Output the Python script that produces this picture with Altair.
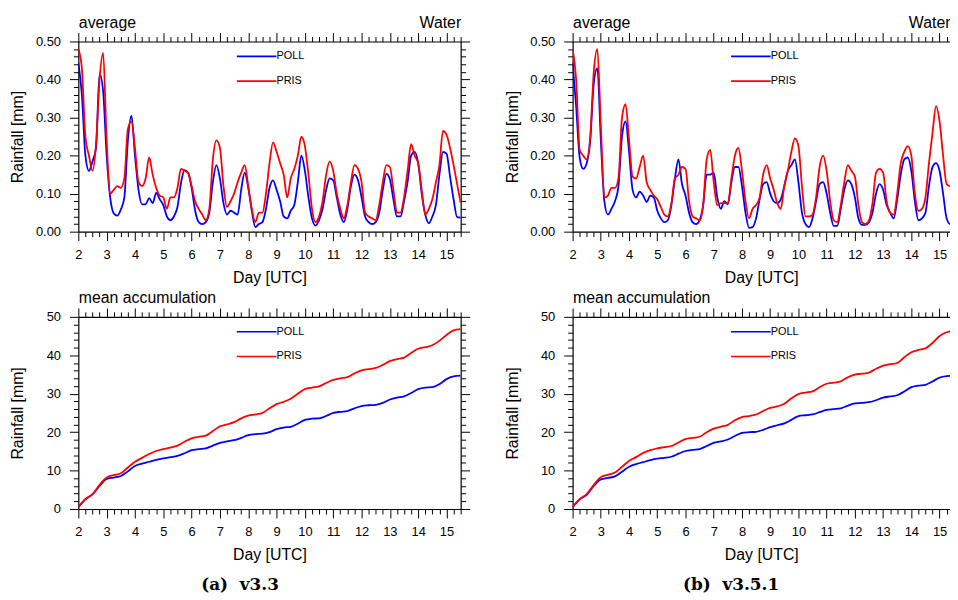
import altair as alt
import pandas as pd

# ---------------- data ----------------
# 3-hourly time axis for the "average" panels, 6-hourly for accumulation
T3 = [2 + 0.125 * k for k in range(109)]
T6 = [2 + 0.25 * k for k in range(55)]

SERIES = ["POLL", "PRIS"]
COLORS = ["#0000ff", "#ff0000"]

# (a) v3.3 hourly-average rainfall
POLL_A = [0.445, 0.36, 0.20, 0.16, 0.185, 0.22, 0.415, 0.37,
          0.20, 0.09, 0.048, 0.042, 0.058, 0.09, 0.24, 0.305,
          0.20, 0.11, 0.072, 0.072, 0.088, 0.075, 0.102, 0.085,
          0.07, 0.04, 0.03, 0.04, 0.065, 0.128, 0.162, 0.155,
          0.115, 0.055, 0.025, 0.02, 0.025, 0.05, 0.13, 0.175,
          0.14, 0.075, 0.045, 0.055, 0.05, 0.045, 0.11, 0.155,
          0.115, 0.055, 0.012, 0.02, 0.025, 0.06, 0.115, 0.135,
          0.11, 0.08, 0.04, 0.035, 0.055, 0.07, 0.13, 0.20,
          0.16, 0.09, 0.035, 0.016, 0.03, 0.06, 0.11, 0.14,
          0.135, 0.09, 0.045, 0.025, 0.06, 0.12, 0.15, 0.135,
          0.09, 0.04, 0.025, 0.02, 0.025, 0.05, 0.11, 0.152,
          0.138, 0.085, 0.04, 0.04, 0.08, 0.13, 0.20, 0.21,
          0.18, 0.10, 0.045, 0.022, 0.04, 0.07, 0.15, 0.21,
          0.205, 0.145, 0.085, 0.038, 0.037]
PRIS_A = [0.48, 0.43, 0.25, 0.20, 0.16, 0.23, 0.40, 0.47,
          0.24, 0.10, 0.11, 0.12, 0.115, 0.14, 0.27, 0.29,
          0.22, 0.13, 0.12, 0.14, 0.195, 0.15, 0.115, 0.095,
          0.09, 0.06, 0.09, 0.09, 0.115, 0.165, 0.16, 0.155,
          0.12, 0.08, 0.06, 0.045, 0.03, 0.06, 0.19, 0.24,
          0.22, 0.12, 0.065, 0.08, 0.10, 0.13, 0.155, 0.175,
          0.12, 0.06, 0.025, 0.05, 0.05, 0.10, 0.18, 0.235,
          0.21, 0.18, 0.15, 0.09, 0.14, 0.165, 0.20, 0.25,
          0.225, 0.15, 0.06, 0.025, 0.04, 0.08, 0.15, 0.185,
          0.16, 0.10, 0.06, 0.035, 0.07, 0.13, 0.175, 0.165,
          0.13, 0.05, 0.04, 0.035, 0.03, 0.07, 0.13, 0.175,
          0.17, 0.11, 0.05, 0.05, 0.09, 0.16, 0.23, 0.20,
          0.18, 0.11, 0.045, 0.06, 0.085, 0.13, 0.175, 0.265,
          0.255, 0.22, 0.175, 0.125, 0.075]

# (b) v3.5.1 hourly-average rainfall
POLL_B = [0.445, 0.33, 0.195, 0.165, 0.18, 0.24, 0.39, 0.43,
          0.24, 0.08, 0.045, 0.06, 0.08, 0.12, 0.25, 0.29,
          0.21, 0.11, 0.09, 0.105, 0.095, 0.078, 0.095, 0.09,
          0.055, 0.035, 0.025, 0.03, 0.07, 0.14, 0.19, 0.125,
          0.095, 0.05, 0.025, 0.02, 0.03, 0.07, 0.15, 0.15,
          0.155, 0.09, 0.06, 0.08, 0.072, 0.13, 0.17, 0.17,
          0.12, 0.05, 0.01, 0.012, 0.035, 0.085, 0.125, 0.13,
          0.10, 0.08, 0.075, 0.085, 0.12, 0.16, 0.175, 0.19,
          0.13, 0.05, 0.02, 0.012, 0.035, 0.08, 0.125, 0.13,
          0.10, 0.05, 0.015, 0.015, 0.06, 0.11, 0.135, 0.125,
          0.09, 0.035, 0.018, 0.018, 0.025, 0.05, 0.10, 0.125,
          0.11, 0.07, 0.05, 0.035, 0.085, 0.15, 0.19, 0.195,
          0.16, 0.08, 0.03, 0.035, 0.05, 0.12, 0.17, 0.18,
          0.16, 0.10, 0.035, 0.02, 0.02]
PRIS_B = [0.48, 0.40, 0.215, 0.20, 0.19, 0.25, 0.42, 0.48,
          0.28, 0.09, 0.095, 0.115, 0.115, 0.14, 0.30, 0.335,
          0.24, 0.145, 0.14, 0.17, 0.20, 0.13, 0.11, 0.095,
          0.085, 0.065, 0.045, 0.04, 0.075, 0.14, 0.15, 0.17,
          0.165, 0.08, 0.04, 0.035, 0.03, 0.07, 0.19, 0.215,
          0.13, 0.07, 0.075, 0.075, 0.075, 0.14, 0.20, 0.22,
          0.16, 0.08, 0.035, 0.06, 0.07, 0.09, 0.15, 0.175,
          0.14, 0.11, 0.075, 0.06, 0.12, 0.16, 0.21, 0.245,
          0.225, 0.12, 0.04, 0.04, 0.045, 0.09, 0.17, 0.20,
          0.16, 0.08, 0.03, 0.025, 0.07, 0.13, 0.175, 0.16,
          0.145, 0.07, 0.025, 0.02, 0.03, 0.075, 0.155, 0.165,
          0.155, 0.08, 0.05, 0.045, 0.10, 0.18, 0.21, 0.225,
          0.20, 0.10, 0.055, 0.06, 0.09, 0.18, 0.26, 0.33,
          0.29, 0.20, 0.125, 0.12, 0.125]

# mean accumulation
ACC_POLL_A = [0.5, 2.5, 3.8, 6.0, 7.8, 8.2, 8.6, 9.8, 11.2, 11.8, 12.3, 12.8,
              13.2, 13.5, 13.8, 14.5, 15.3, 15.6, 15.8, 16.5, 17.2, 17.6, 17.9, 18.5,
              19.2, 19.5, 19.6, 20.0, 20.8, 21.2, 21.4, 22.2, 23.2, 23.5, 23.6, 24.2,
              25.0, 25.3, 25.5, 26.2, 26.8, 27.0, 27.1, 27.6, 28.5, 29.0, 29.3, 30.2,
              31.2, 31.6, 31.7, 32.5, 33.8, 34.5, 34.7]
ACC_PRIS_A = [0.5, 2.6, 3.9, 6.3, 8.2, 8.8, 9.3, 10.8, 12.3, 13.3, 14.3, 15.1,
              15.6, 16.0, 16.5, 17.5, 18.4, 18.8, 19.1, 20.3, 21.5, 22.0, 22.6, 23.6,
              24.3, 24.6, 25.0, 26.2, 27.3, 27.9, 28.7, 30.0, 31.2, 31.6, 31.9, 32.8,
              33.6, 34.0, 34.3, 35.3, 36.1, 36.4, 36.7, 37.5, 38.5, 39.0, 39.4, 40.6,
              41.7, 42.1, 42.6, 43.8, 45.3, 46.5, 46.8]
ACC_POLL_B = [0.5, 2.5, 3.7, 6.0, 7.7, 8.1, 8.5, 9.7, 11.0, 11.7, 12.2, 12.7,
              13.1, 13.3, 13.6, 14.4, 15.1, 15.4, 15.6, 16.4, 17.2, 17.6, 18.1, 19.0,
              19.8, 20.0, 20.1, 20.6, 21.3, 21.8, 22.3, 23.2, 24.2, 24.4, 24.6, 25.2,
              25.8, 26.0, 26.2, 26.9, 27.5, 27.6, 27.8, 28.3, 29.0, 29.3, 29.6, 30.6,
              31.7, 32.1, 32.3, 33.2, 34.2, 34.6, 34.7]
ACC_PRIS_B = [0.5, 2.6, 3.9, 6.3, 8.3, 8.9, 9.5, 11.0, 12.5, 13.5, 14.6, 15.3,
              15.8, 16.1, 16.4, 17.3, 18.2, 18.5, 18.8, 20.0, 20.9, 21.4, 21.9, 23.1,
              23.9, 24.2, 24.6, 25.5, 26.3, 26.7, 27.4, 28.8, 29.9, 30.3, 30.6, 31.7,
              32.6, 32.9, 33.2, 34.3, 35.0, 35.2, 35.5, 36.5, 37.3, 37.7, 38.0, 39.5,
              40.8, 41.4, 41.8, 43.2, 45.0, 46.0, 46.4]

FONT = "Liberation Sans"


def long_df(t, a, b):
    return pd.DataFrame({"t": list(t) * 2, "v": list(a) + list(b),
                         "series": [SERIES[0]] * len(a) + [SERIES[1]] * len(b)})


def axis(orient, values, size, **kw):
    opts = dict(orient=orient, values=values, tickSize=size, ticks=True, grid=False,
                tickColor="black", tickWidth=1, domainColor="black", domainWidth=1.2,
                labelFont=FONT, labelFontSize=13, labelColor="black",
                labelFlush=False, labelOverlap=False,
                titleFont=FONT, titleFontSize=16, titleFontWeight="normal",
                titleColor="black")
    opts.update(kw)
    return alt.Axis(**opts)


def panel(df, xmax, width, height, ymax, ymaj, ymin, yfmt, label, right_label, right_axis):
    xs = alt.Scale(domain=[2, xmax], nice=False, zero=False)
    ys = alt.Scale(domain=[0, ymax], nice=False, zero=False)
    xmaj = [d for d in range(2, 16) if d <= xmax]
    xmin = [2 + 0.25 * k for k in range(55) if k % 4 and 2 + 0.25 * k <= xmax]
    base = alt.Chart(df)

    legend = alt.Legend(orient="none", legendX=174, legendY=9, title=None,
                        symbolType="M-4,0H4", symbolSize=100, symbolStrokeWidth=1.6,
                        labelFont=FONT, labelFontSize=11, labelColor="black",
                        labelOffset=14, rowPadding=14, padding=0)

    lines = base.mark_line(strokeWidth=1.8, clip=True, interpolate="monotone").encode(
        x=alt.X("t:Q", scale=xs, axis=axis(
            "bottom", xmaj, 9, labels=True, domain=True, format="d", labelPadding=8,
            title="Day [UTC]", titleX=width / 2, titleY=46, titleAlign="center",
            titleBaseline="middle")),
        y=alt.Y("v:Q", scale=ys, axis=axis(
            "left", ymaj, 9, labels=True, domain=True, format=yfmt, labelPadding=9,
            title="Rainfall [mm]", titleX=-61, titleY=height / 2, titleAngle=270,
            titleAlign="center", titleBaseline="middle")),
        color=alt.Color("series:N", scale=alt.Scale(domain=SERIES, range=COLORS),
                        legend=legend),
    )
    minor = base.mark_line(strokeOpacity=0, clip=True).encode(
        x=alt.X("t:Q", scale=xs, axis=axis("bottom", xmin, 5, labels=False,
                                          domain=False, title=None)),
        y=alt.Y("v:Q", scale=ys, axis=axis("left", ymin, 5, labels=False,
                                          domain=False, title=None)),
        detail="series:N",
    )
    top_y = (alt.Y("v:Q", scale=ys, axis=axis("right", ymaj, 9, labels=False,
                                             domain=True, title=None))
             if right_axis else alt.Y("v:Q", scale=ys, axis=None))
    top = base.mark_line(strokeOpacity=0, clip=True).encode(
        x=alt.X("t:Q", scale=xs, axis=axis(
            "top", xmaj, 9, labels=False, domain=True, title=label, titleX=0,
            titleY=-14, titleAlign="left", titleBaseline="alphabetic")),
        y=top_y,
        detail="series:N",
    )
    top2_y = (alt.Y("v:Q", scale=ys, axis=axis("right", ymin, 5, labels=False,
                                              domain=False, title=None))
              if right_axis else alt.Y("v:Q", scale=ys, axis=None))
    top2_axis = dict(labels=False, domain=False)
    if right_label:
        top2_axis.update(title=right_label, titleX=width, titleY=-14, titleAlign="right",
                         titleBaseline="alphabetic")
    else:
        top2_axis.update(title=None)
    top2 = base.mark_line(strokeOpacity=0, clip=True).encode(
        x=alt.X("t:Q", scale=xs, axis=axis("top", xmin, 5, **top2_axis)),
        y=top2_y,
        detail="series:N",
    )
    return (alt.layer(lines, minor, top, top2)
            .resolve_axis(x="independent", y="independent")
            .properties(width=width, height=height))


avg_y_major = [0.0, 0.1, 0.2, 0.3, 0.4, 0.5]
avg_y_minor = [0.02 * k for k in range(26) if k % 5]
acc_y_major = [0, 10, 20, 30, 40, 50]
acc_y_minor = [2 * k for k in range(26) if k % 5]

W_A, W_B = 386, 381
XMAX_A, XMAX_B = 15.5, 15.37
H_TOP, H_BOT = 192, 194

top_a = panel(long_df(T3, POLL_A, PRIS_A), XMAX_A, W_A, H_TOP, 0.5, avg_y_major,
              avg_y_minor, ".2f", "average", "Water", True)
bot_a = panel(long_df(T6, ACC_POLL_A, ACC_PRIS_A), XMAX_A, W_A, H_BOT, 50, acc_y_major,
              acc_y_minor, "d", "mean accumulation", None, True)
top_b = panel(long_df(T3, POLL_B, PRIS_B), XMAX_B, W_B, H_TOP, 0.5, avg_y_major,
              avg_y_minor, ".2f", "average", "Water", False)
bot_b = panel(long_df(T6, ACC_POLL_B, ACC_PRIS_B), XMAX_B, W_B, H_BOT, 50, acc_y_major,
              acc_y_minor, "d", "mean accumulation", None, False)


def caption(text, dx):
    return alt.TitleParams(text=text, orient="bottom", anchor="middle",
                           font="DejaVu Serif", fontSize=17, fontWeight="bold",
                           color="black", offset=15, dx=dx)


left = alt.vconcat(top_a, bot_a, spacing=5,
                   title=caption("(a)\u00a0 v3.3", 0)).resolve_scale(color="independent")
right = alt.vconcat(top_b, bot_b, spacing=5,
                    title=caption("(b)\u00a0 v3.5.1", 4)).resolve_scale(color="independent")

chart = (alt.hconcat(left, right, spacing=34)
         .resolve_scale(color="independent")
         .properties(padding={"left": 2, "top": 4, "right": 0, "bottom": 0},
                     background="white")
         .configure_view(strokeWidth=0))

chart.save("out.html", embed_options={"renderer": "svg", "actions": False})
